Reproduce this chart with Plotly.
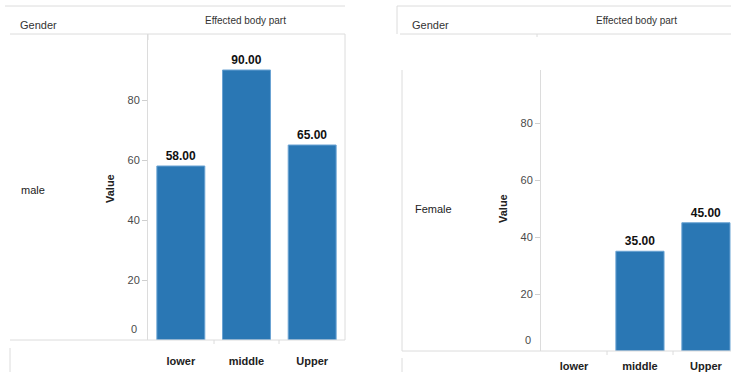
import plotly.graph_objects as go

# Data
categories = ["lower", "middle", "Upper"]
male_values = [58, 90, 65]
female_values = [None, 35, 45]
y_tickvals = [20, 40, 60, 80]
header_left = "Gender"
header_top = "Effected body part"
row_labels = ["male", "Female"]

W, H = 731, 372
BAR = "#2a77b4"
LINE = "#dcdcdc"
FONT = "Liberation Sans, Arial, sans-serif"


def px(x):
    return x / W


def py(y):
    return 1 - y / H


fig = go.Figure()

common_bar = dict(
    marker=dict(color=BAR, line=dict(color="#6aa3d3", width=1)),
    texttemplate="%{y:.2f}",
    textposition="outside",
    textfont=dict(family=FONT, size=12, color="#111", weight="bold"),
    cliponaxis=False,
    width=0.73,
    hoverinfo="x+y",
)

fig.add_trace(go.Bar(x=categories, y=male_values, xaxis="x", yaxis="y", **common_bar))
fig.add_trace(go.Bar(x=categories, y=female_values, xaxis="x2", yaxis="y2", **common_bar))

xcommon = dict(
    type="category",
    showgrid=False,
    zeroline=False,
    showline=False,
    ticks="",
    tickfont=dict(family=FONT, size=11, color="#222", weight="bold"),
    fixedrange=True,
)
ycommon = dict(
    showgrid=False,
    zeroline=False,
    showline=True,
    linecolor=LINE,
    linewidth=1,
    ticks="outside",
    ticklen=5,
    tickcolor="#cfcfcf",
    tickvals=y_tickvals,
    tickfont=dict(family=FONT, size=11, color="#4a4a4a"),
    fixedrange=True,
)

fig.update_layout(
    width=W,
    height=H,
    autosize=False,
    margin=dict(l=0, r=0, t=0, b=0),
    paper_bgcolor="white",
    plot_bgcolor="rgba(0,0,0,0)",
    showlegend=False,
    font=dict(family=FONT),
    xaxis=dict(domain=[px(148), px(345)], range=[-0.5, 2.5], anchor="y",
               ticklabelstandoff=13, **xcommon),
    yaxis=dict(domain=[py(340), py(34)], range=[0, 102], anchor="x", **ycommon),
    xaxis2=dict(domain=[px(541), 1.0], range=[-0.5, 2.38], anchor="y2",
                ticklabelstandoff=7, **xcommon),
    yaxis2=dict(domain=[py(351), py(70)], range=[0, 98.6], anchor="x2", **ycommon),
)

# Frame lines of the two crosstab panels
lines = [
    # left panel
    (5, 6, 345, 6), (10, 34, 345, 34), (148, 34, 148, 40), (345, 34, 345, 340),
    (10, 340, 345, 340), (10, 348, 10, 372), (214, 340, 214, 344), (279, 340, 279, 344),
    # right panel
    (397, 6, 731, 6), (397, 6, 397, 34), (400, 34, 731, 34), (537, 34, 537, 37),
    (402, 70, 402, 351), (402, 351, 731, 351), (402, 358, 402, 372),
    (607, 351, 607, 355), (673, 351, 673, 355),
]
for x0, y0, x1, y1 in lines:
    fig.add_shape(type="line", xref="paper", yref="paper",
                  x0=px(x0), y0=py(y0), x1=px(x1), y1=py(y1),
                  line=dict(color=LINE, width=1))

annotations = []
# headers
for gx, tx in [(18, 245), (410, 636)]:
    annotations.append(dict(x=px(gx), y=py(25), xref="paper", yref="paper", text=header_left,
                            showarrow=False, xanchor="left", yanchor="middle",
                            font=dict(family=FONT, size=11, color="#333")))
    annotations.append(dict(x=px(tx), y=py(21), xref="paper", yref="paper", text=header_top,
                            showarrow=False, xanchor="center", yanchor="middle",
                            font=dict(family=FONT, size=10, color="#333")))
# row labels
annotations.append(dict(x=px(19), y=py(190), xref="paper", yref="paper", text=row_labels[0],
                        showarrow=False, xanchor="left", yanchor="middle",
                        font=dict(family=FONT, size=11, color="#222")))
annotations.append(dict(x=px(413), y=py(209), xref="paper", yref="paper", text=row_labels[1],
                        showarrow=False, xanchor="left", yanchor="middle",
                        font=dict(family=FONT, size=11, color="#222")))
# axis titles
for vx, vy in [(110, 189), (503, 208)]:
    annotations.append(dict(x=px(vx), y=py(vy), xref="paper", yref="paper", text="Value",
                            textangle=-90, showarrow=False, xanchor="center", yanchor="middle",
                            font=dict(family=FONT, size=11, color="#222", weight="bold")))
# zero labels sit just above the baseline
for yr, rx in [("y", 139), ("y2", 533)]:
    annotations.append(dict(x=px(rx), y=0, xref="paper", yref=yr, text="0",
                            showarrow=False, xanchor="right", yanchor="middle", yshift=11,
                            font=dict(family=FONT, size=11, color="#4a4a4a")))
fig.update_layout(annotations=annotations)

fig.write_html("out.html")
